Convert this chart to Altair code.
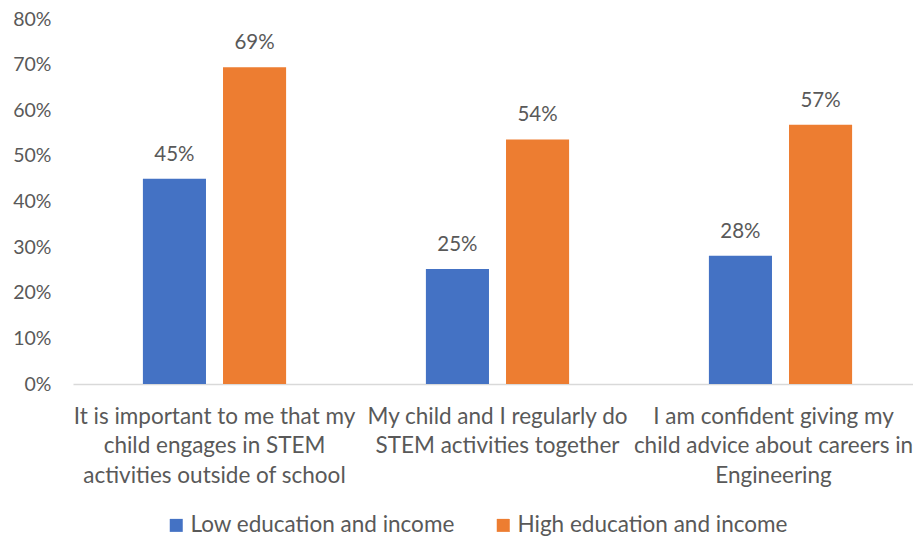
import altair as alt
import pandas as pd

categories = [
    "It is important to me that my\nchild engages in STEM\nactivities outside of school",
    "My child and I regularly do\nSTEM activities together",
    "I am confident giving my\nchild advice about careers in\nEngineering",
]
groups = ["Low education and income", "High education and income"]
low_values = [0.450, 0.252, 0.281]
high_values = [0.694, 0.536, 0.568]
colors = ["#4472C4", "#ED7D31"]

rows = []
for i, c in enumerate(categories):
    rows.append({"category": c, "group": groups[0], "value": low_values[i], "order": 0})
    rows.append({"category": c, "group": groups[1], "value": high_values[i], "order": 1})
df = pd.DataFrame(rows)

FONT = "Lato"
GRAY = "#595959"

x = alt.X(
    "category:N",
    sort=categories,
    scale=alt.Scale(range=[0, 849], paddingInner=0.494, paddingOuter=0.247),
    axis=alt.Axis(
        title=None,
        labelAngle=0,
        labelExpr="split(datum.label, '\\n')",
        labelFont=FONT,
        labelFontSize=22.5,
        labelColor=GRAY,
        labelLineHeight=29.5,
        labelLimit=0,
        labelPadding=21,
        labelOffset={"condition": {"test": "datum.index == 1", "value": -7}, "value": 0},
        ticks=False,
        domainColor="#d9d9d9",
        domainWidth=1.5,
    ),
)
xo = alt.XOffset("group:N", sort=groups, scale=alt.Scale(paddingInner=0.2125, paddingOuter=0))
y = alt.Y(
    "value:Q",
    scale=alt.Scale(domain=[0, 0.8]),
    axis=alt.Axis(
        title=None,
        format=".0%",
        values=[0, 0.1, 0.2, 0.3, 0.4, 0.5, 0.6, 0.7, 0.8],
        grid=False,
        domain=False,
        ticks=False,
        labelFont=FONT,
        labelFontSize=19.5,
        labelColor=GRAY,
        labelPadding=22,
    ),
)

bars = alt.Chart(df).mark_bar().encode(
    x=x,
    xOffset=xo,
    y=y,
    color=alt.Color(
        "group:N",
        sort=groups,
        scale=alt.Scale(domain=groups, range=colors),
        legend=alt.Legend(
            title=None,
            orient="none",
            legendX=92,
            legendY=495,
            direction="horizontal",
            symbolType="square",
            symbolSize=169,
            symbolStrokeWidth=0,
            labelFont=FONT,
            labelFontSize=22.5,
            labelColor=GRAY,
            labelLimit=0,
            columnPadding=37,
            labelOffset=3,
        ),
    ),
)

labels = alt.Chart(df).mark_text(
    baseline="alphabetic", dy=-18, font=FONT, fontSize=20.5, color=GRAY
).encode(
    x=x,
    xOffset=xo,
    y=y,
    text=alt.Text("value:Q", format=".0%"),
)

chart = (
    alt.layer(bars, labels)
    .properties(
        width=840,
        height=365,
        autosize=alt.AutoSizeParams(type="none"),
        padding={"left": 65, "top": 11, "right": 0, "bottom": 158},
    )
    .configure_view(stroke=None)
)

chart.save("out.html", embed_options={"renderer": "svg", "actions": False})
